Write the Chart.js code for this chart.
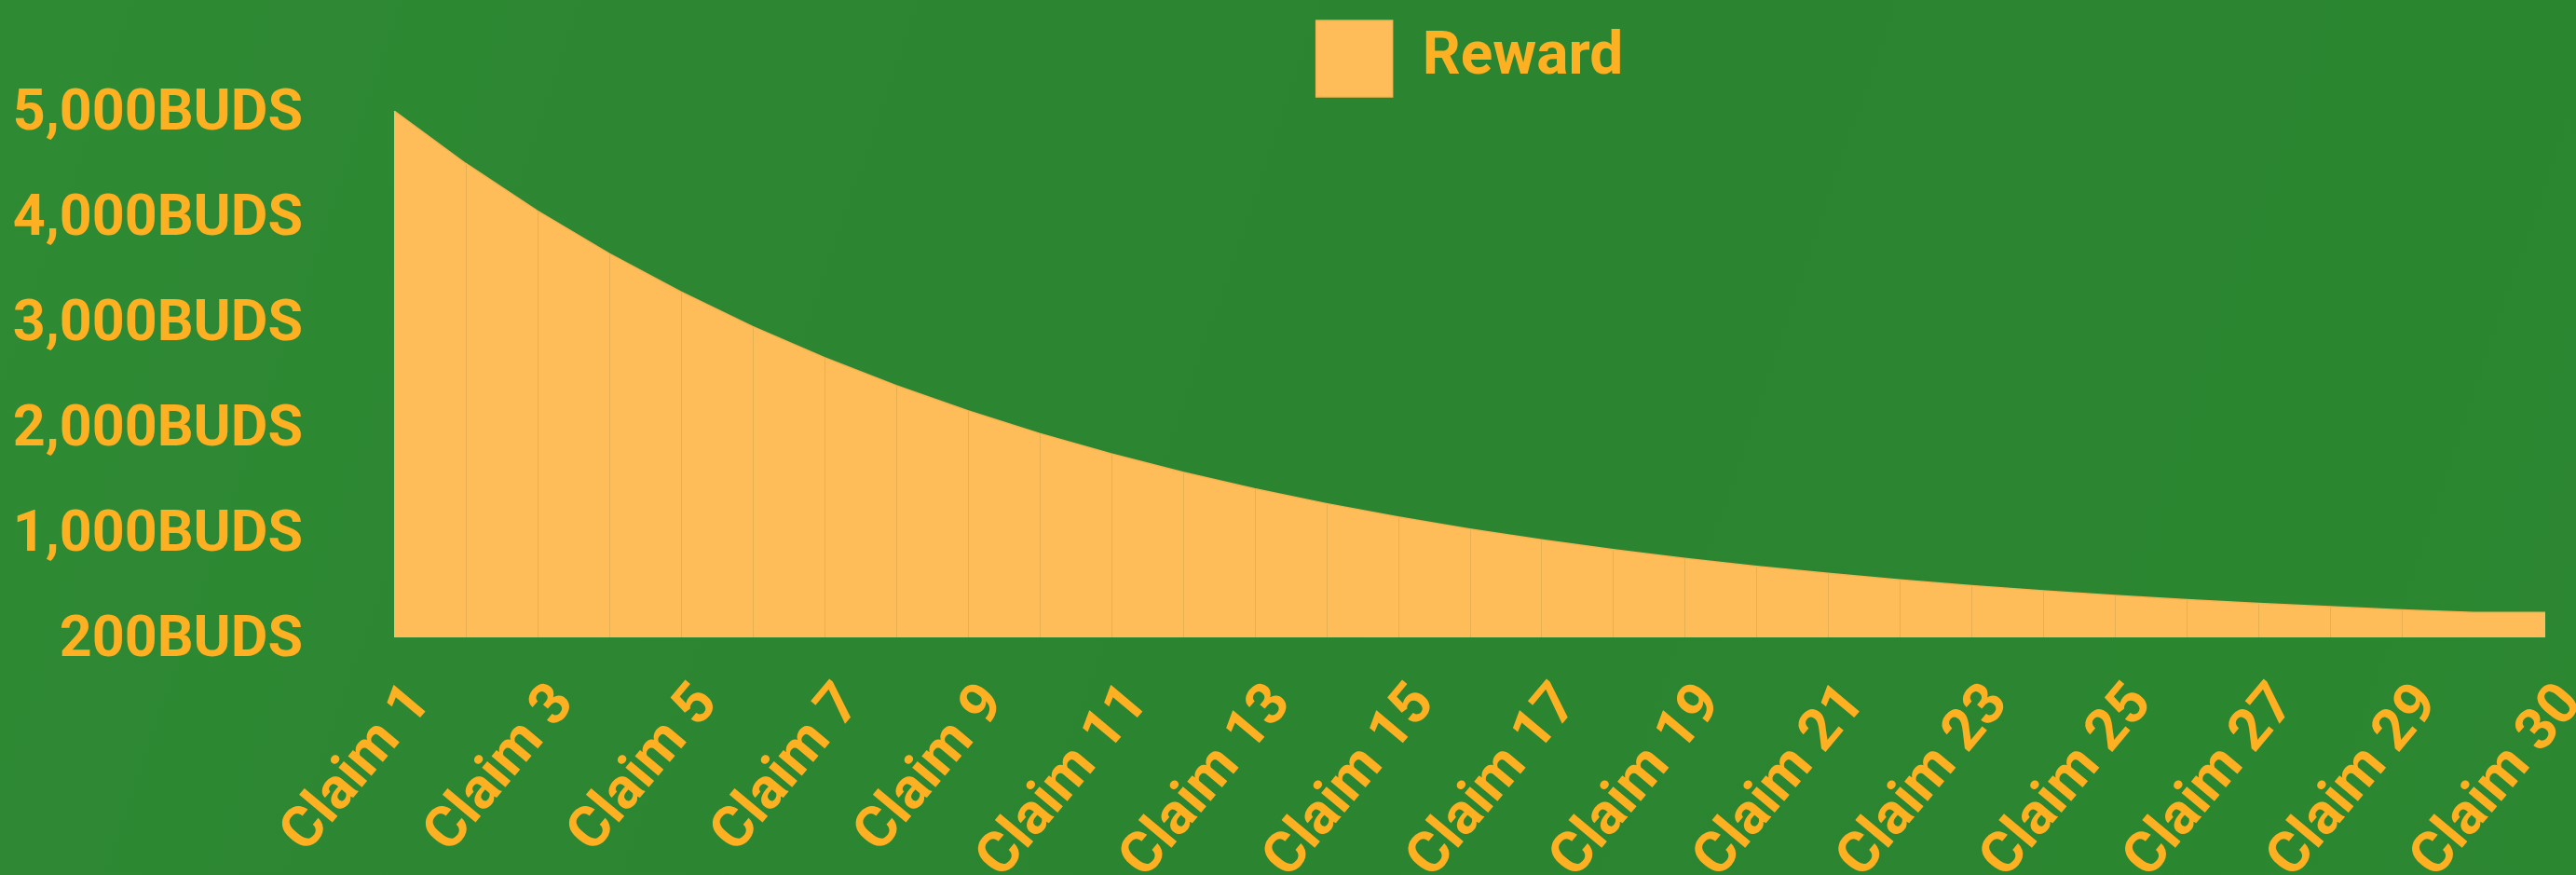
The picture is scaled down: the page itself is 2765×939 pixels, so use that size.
<!DOCTYPE html>
<html>
<head>
<meta charset="utf-8">
<script src="https://cdn.jsdelivr.net/npm/chart.js@4.4.0/dist/chart.umd.min.js"></script>
<style>
  html, body { margin: 0; padding: 0; background: #2d8631; overflow: hidden; }
  #wrap { position: relative; width: 2765px; height: 939px; }
</style>
</head>
<body>
<div id="wrap"><canvas id="chart"></canvas></div>
<script>
// ---- data ----
const categories = [
  'Claim 1', 'Claim 2', 'Claim 3', 'Claim 4', 'Claim 5', 'Claim 6', 'Claim 7', 'Claim 8',
  'Claim 9', 'Claim 10', 'Claim 11', 'Claim 12', 'Claim 13', 'Claim 14', 'Claim 15', 'Claim 16',
  'Claim 17', 'Claim 18', 'Claim 19', 'Claim 20', 'Claim 21', 'Claim 22', 'Claim 23', 'Claim 24',
  'Claim 25', 'Claim 26', 'Claim 27', 'Claim 28', 'Claim 29', 'Claim 30', 'Claim 30'
];
const rewardValues = [
  5000, 4500, 4050, 3645, 3281, 2952, 2657, 2391,
  2152, 1937, 1743, 1569, 1412, 1271, 1144, 1029,
  926, 834, 750, 675, 608, 547, 492, 443,
  399, 359, 323, 291, 262, 236, 236
];
const seriesLabel = 'Reward';
const yTickValues = [0, 1000, 2000, 3000, 4000, 5000];
const yTickLabels = ['200BUDS', '1,000BUDS', '2,000BUDS', '3,000BUDS', '4,000BUDS', '5,000BUDS'];

// ---- styling ----
const FONT = 'Roboto, "DejaVu Sans", sans-serif';
const TEXT_COLOR = '#fdb022';
const FILL_COLOR = '#ffbd59';

const backgroundPlugin = {
  id: 'bg',
  beforeDraw(chart) {
    const { ctx, width, height } = chart;
    ctx.save();
    const g = ctx.createLinearGradient(0, 0, width, height);
    g.addColorStop(0, '#2f8a34');
    g.addColorStop(0.5, '#2b8430');
    g.addColorStop(1, '#2c8731');
    ctx.fillStyle = g;
    ctx.fillRect(0, 0, width, height);
    ctx.restore();
  }
};

const legendPlugin = {
  id: 'legendTweak',
  beforeLayout(chart) {
    const lg = chart.legend;
    if (lg && !lg._patched) {
      lg._patched = true;
      const origFit = lg.fit;
      lg.fit = function () { origFit.call(this); this.height = 107; };
    }
  },
  afterLayout(chart) {
    const lg = chart.legend;
    if (lg) {
      lg.left = chart.chartArea.left;
      lg.right = chart.chartArea.right;
      lg.width = lg.right - lg.left;
    }
  }
};

const seamPlugin = {
  id: 'seams',
  afterDatasetsDraw(chart) {
    const meta = chart.getDatasetMeta(0);
    const data = chart.data.datasets[0].data;
    const { ctx, chartArea } = chart;
    ctx.save();
    ctx.strokeStyle = 'rgba(205,165,75,0.55)';
    ctx.lineWidth = 1;
    for (let i = 1; i < meta.data.length - 1; i++) {
      if (data[i] === data[i + 1]) continue;
      const p = meta.data[i];
      const x = Math.round(p.x) + 0.5;
      ctx.beginPath();
      ctx.moveTo(x, p.y + 1);
      ctx.lineTo(x, chartArea.bottom);
      ctx.stroke();
    }
    ctx.restore();
  }
};

new Chart(document.getElementById('chart'), {
  type: 'line',
  data: {
    labels: categories,
    datasets: [{
      label: seriesLabel,
      data: rewardValues,
      fill: 'origin',
      backgroundColor: FILL_COLOR,
      borderColor: '#f4b552',
      borderWidth: 1.5,
      pointRadius: 0,
      pointHoverRadius: 0,
      tension: 0
    }]
  },
  options: {
    responsive: true,
    maintainAspectRatio: false,
    animation: false,
    devicePixelRatio: 1,
    layout: { padding: { top: 12, right: 33, bottom: 0, left: 0 } },
    plugins: {
      tooltip: { enabled: false },
      legend: {
        display: true,
        position: 'top',
        align: 'center',
        labels: {
          color: TEXT_COLOR,
          boxWidth: 82,
          boxHeight: 82,
          padding: 10,
          font: { family: FONT, size: 64, weight: 'bold' }
        }
      }
    },
    scales: {
      x: {
        offset: false,
        grid: { display: false, drawTicks: false },
        border: { display: false },
        ticks: {
          autoSkip: false,
          minRotation: 50,
          maxRotation: 50,
          padding: 37,
          labelOffset: 29,
          color: TEXT_COLOR,
          font: { family: FONT, size: 62, weight: 'bold' },
          callback: function (value, index) {
            return index % 2 === 0 ? categories[index] : null;
          }
        },
        afterFit(scale) {
          scale.height = 255;
          scale.paddingLeft = 0;
          scale.paddingRight = 0;
        }
      },
      y: {
        min: 0,
        max: 5000,
        grid: { display: false, drawTicks: false },
        border: { display: false },
        afterBuildTicks(scale) {
          scale.ticks = yTickValues.map(v => ({ value: v }));
        },
        ticks: {
          padding: 98,
          labelOffset: 5,
          color: TEXT_COLOR,
          font: { family: FONT, size: 61, weight: 'bold' },
          callback: function (value, index) {
            return yTickLabels[index];
          }
        },
        afterFit(scale) {
          scale.width = 423;
          scale.paddingTop = 0;
          scale.paddingBottom = 0;
        }
      }
    }
  },
  plugins: [backgroundPlugin, legendPlugin, seamPlugin]
});
</script>
</body>
</html>
